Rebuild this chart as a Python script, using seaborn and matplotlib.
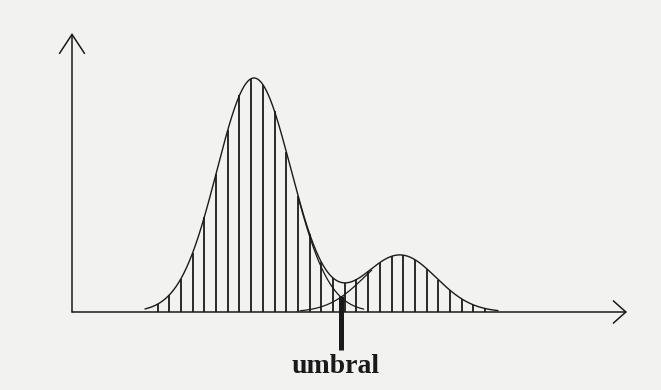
import numpy as np
import pandas as pd
import matplotlib
matplotlib.use("Agg")
import matplotlib.pyplot as plt
import seaborn as sns

# --- data (arbitrary units, drawn like the sketch) ---
means = [254, 400]          # centres of the two populations
sigmas = [37.0, 36.0]       # spreads
peaks = [234, 57]           # heights
threshold = 341             # "umbral"
label = "umbral"
x_start, x_end = 145, 498   # drawn domain of the curves
hatch_start, hatch_step, hatch_end = 157.6, 11.7, 490

sns.set_style("white")
BG = "#f2f2f0"

def gauss(x, m, s, h):
    return h * np.exp(-0.5 * ((x - m) / s) ** 2)

x = np.linspace(x_start, x_end, 800)
g1 = gauss(x, means[0], sigmas[0], peaks[0])
g2 = gauss(x, means[1], sigmas[1], peaks[1])
env = g1 + g2
df_env = pd.DataFrame({"x": x, "y": env})

fig = plt.figure(figsize=(6.61, 3.90), dpi=100, facecolor=BG)
ax = fig.add_axes([0, 0, 1, 1])
ax.set_facecolor(BG)
ax.set_xlim(0, 661)
ax.set_ylim(-78, 312)
for s in ax.spines.values():
    s.set_visible(False)
ax.set_xticks([]); ax.set_yticks([])

# envelope
sns.lineplot(data=df_env, x="x", y="y", ax=ax, color="#1a1a1a", lw=1.0)

# individual curves in the overlap region
m1 = (x >= 298) & (x <= 364)
m2 = (x >= 300) & (x <= 372)
sns.lineplot(x=x[m1], y=g1[m1], ax=ax, color="#1a1a1a", lw=0.9)
sns.lineplot(x=x[m2], y=g2[m2], ax=ax, color="#1a1a1a", lw=0.9)

# vertical hatching
hx = np.arange(hatch_start, hatch_end, hatch_step)
hy = gauss(hx, means[0], sigmas[0], peaks[0]) + gauss(hx, means[1], sigmas[1], peaks[1])
ax.vlines(hx, 0, hy, color="#1a1a1a", lw=1.3)

# axes with open arrows
ax.annotate("", xy=(72, 279), xytext=(72, 0),
            arrowprops=dict(arrowstyle="->,head_length=1.37,head_width=0.9",
                            lw=1.1, color="#1a1a1a", shrinkA=0, shrinkB=0))
ax.annotate("", xy=(627, 0), xytext=(72, 0),
            arrowprops=dict(arrowstyle="->,head_length=0.9,head_width=0.8",
                            lw=1.1, color="#1a1a1a", shrinkA=0, shrinkB=0))

# threshold marker
ax.vlines([threshold], -38, 16, color="#1a1a1a", lw=3.6)
ax.text(threshold - 5, -61, label, ha="center", va="baseline",
        fontsize=20, fontweight="bold", family="Liberation Serif", color="#1a1a1a")

fig.savefig("out.png", dpi=100, facecolor=BG)
